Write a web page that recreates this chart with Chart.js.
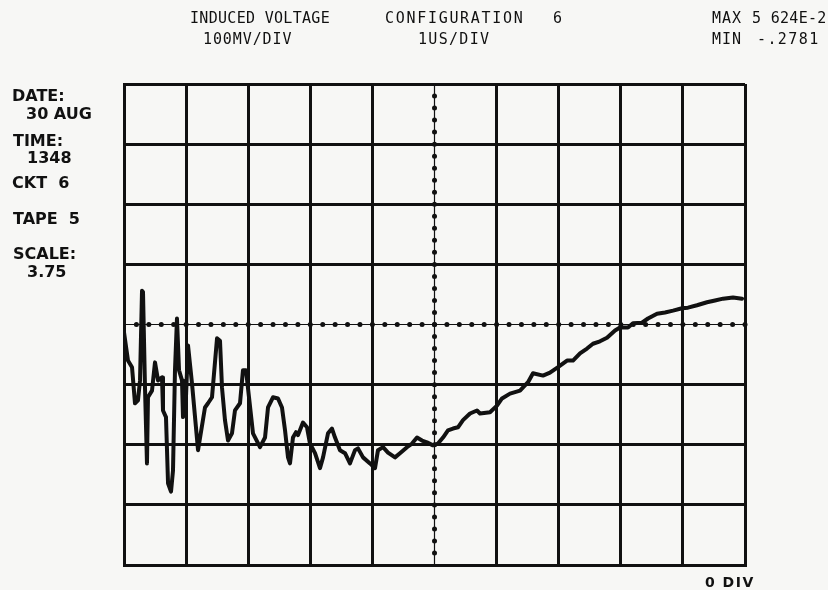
<!DOCTYPE html>
<html>
<head>
<meta charset="utf-8">
<script src="https://cdn.jsdelivr.net/npm/chart.js@4/dist/chart.umd.min.js"></script>
<style>
  body { margin: 0; background: #f7f7f5; }
  #wrap { position: relative; width: 828px; height: 590px; }
  canvas { position: absolute; left: 0; top: 0; }
  .hd, .lb { position: absolute; color: #111; white-space: pre; line-height: 1; }
  .hd { font-family: "DejaVu Sans Mono", monospace; font-size: 15px; letter-spacing: 0.3px; }
  .lb { font-family: "DejaVu Sans", sans-serif; font-weight: bold; font-size: 16px; }
</style>
</head>
<body>
<div id="wrap">
  <canvas id="scope" width="828" height="590"></canvas>
  <div class="hd" style="left:190px;top:11px">INDUCED VOLTAGE</div>
  <div class="hd" style="left:203px;top:32px;letter-spacing:0.9px">100MV/DIV</div>
  <div class="hd" style="left:385px;top:11px;letter-spacing:1.7px">CONFIGURATION</div>
  <div class="hd" style="left:553px;top:11px">6</div>
  <div class="hd" style="left:418px;top:32px;letter-spacing:1.3px">1US/DIV</div>
  <div class="hd" style="left:712px;top:11px;letter-spacing:1px">MAX</div>
  <div class="hd" style="left:752px;top:11px">5 624E-2</div>
  <div class="hd" style="left:712px;top:32px;letter-spacing:1px">MIN</div>
  <div class="hd" style="left:757px;top:32px;letter-spacing:1.4px">-.2781</div>

  <div class="lb" style="left:12px;top:88px">DATE:</div>
  <div class="lb" style="left:26px;top:106px">30 AUG</div>
  <div class="lb" style="left:13px;top:133px">TIME:</div>
  <div class="lb" style="left:27px;top:150px">1348</div>
  <div class="lb" style="left:12px;top:175px">CKT  6</div>
  <div class="lb" style="left:13px;top:211px">TAPE  5</div>
  <div class="lb" style="left:13px;top:246px">SCALE:</div>
  <div class="lb" style="left:27px;top:264px">3.75</div>

  <div class="lb" style="left:705px;top:575px;font-size:14px;letter-spacing:1.5px">0 DIV</div>
</div>
<script>
// trace samples: time in microseconds, induced voltage in millivolts
const timeUs = [
  0.000, 0.064, 0.129, 0.177, 0.225, 0.258, 0.290, 0.306, 0.338, 0.370,
  0.386, 0.451, 0.499, 0.548, 0.612, 0.628, 0.676, 0.709, 0.757, 0.789,
  0.821, 0.853, 0.886, 0.934, 0.950, 0.998, 1.031, 1.095, 1.192, 1.304,
  1.353, 1.417, 1.498, 1.546, 1.578, 1.626, 1.675, 1.739, 1.787, 1.868,
  1.916, 1.965, 2.013, 2.077, 2.190, 2.271, 2.319, 2.399, 2.480, 2.544,
  2.593, 2.641, 2.673, 2.721, 2.770, 2.802, 2.882, 2.947, 2.995, 3.076,
  3.156, 3.205, 3.285, 3.349, 3.398, 3.478, 3.559, 3.639, 3.720, 3.768,
  3.849, 3.961, 4.042, 4.090, 4.171, 4.251, 4.364, 4.444, 4.557, 4.638,
  4.718, 4.799, 4.879, 4.976, 5.056, 5.137, 5.217, 5.298, 5.378, 5.459,
  5.572, 5.684, 5.733, 5.894, 6.006, 6.087, 6.216, 6.377, 6.506, 6.586,
  6.747, 6.860, 6.989, 7.134, 7.230, 7.343, 7.456, 7.552, 7.665, 7.778,
  7.907, 7.987, 8.116, 8.196, 8.341, 8.438, 8.583, 8.712, 8.841, 8.986,
  9.082, 9.227, 9.388, 9.517, 9.646, 9.807, 9.952
];
const voltMv = [
  -13, -60, -71, -131, -126, -93, 56, 54, -105, -231,
  -121, -110, -63, -93, -88, -143, -154, -264, -278, -243,
  -76, 10, -76, -93, -154, -121, -35, -98, -209, -138,
  -131, -121, -23, -27, -105, -159, -193, -181, -143, -131,
  -76, -76, -121, -181, -204, -188, -138, -121, -123, -138,
  -176, -221, -231, -188, -179, -184, -163, -171, -198, -214,
  -239, -221, -181, -173, -188, -209, -214, -231, -209, -206,
  -221, -231, -239, -209, -204, -213, -221, -214, -204, -198,
  -188, -193, -196, -201, -198, -188, -176, -173, -171, -159,
  -148, -143, -148, -146, -135, -123, -115, -110, -96, -81,
  -85, -80, -71, -60, -60, -48, -40, -32, -28, -22,
  -10, -5, -5, 2, 3, 10, 18, 20, 23, 27,
  28, 32, 37, 40, 43, 45, 43
];

// 10 divisions of 1 us, 8 divisions of 100 mV
const timeRange = [0, 10];
const voltRange = [-400, 400];

const ink = '#111';

// center graticule lines: thin line with beads every 0.2 division
const centerLines = {
  id: 'centerLines',
  beforeDatasetsDraw(chart) {
    const { ctx, chartArea: a, scales: { x, y } } = chart;
    const cx = x.getPixelForValue(5);
    const cy = y.getPixelForValue(0);
    ctx.save();
    ctx.strokeStyle = ink;
    ctx.fillStyle = ink;
    ctx.lineWidth = 1.2;
    ctx.beginPath();
    ctx.moveTo(a.left, cy); ctx.lineTo(a.right, cy);
    ctx.moveTo(cx, a.top); ctx.lineTo(cx, a.bottom);
    ctx.stroke();
    for (let t = 0.2; t < 10; t += 0.2) {
      ctx.beginPath();
      ctx.arc(x.getPixelForValue(t), cy, 2.5, 0, Math.PI * 2);
      ctx.fill();
    }
    for (let v = -380; v < 400; v += 20) {
      ctx.beginPath();
      ctx.arc(cx, y.getPixelForValue(v), 2.5, 0, Math.PI * 2);
      ctx.fill();
    }
    ctx.restore();
  }
};

const scopeChart = new Chart(document.getElementById('scope'), {
  type: 'scatter',
  data: {
    datasets: [{
      label: 'Induced voltage',
      data: timeUs.map((t, i) => ({ x: t, y: voltMv[i] })),
      showLine: true,
      borderColor: ink,
      borderWidth: 4,
      pointRadius: 0,
      tension: 0,
      borderJoinStyle: 'round',
      borderCapStyle: 'round'
    }]
  },
  options: {
    responsive: false,
    animation: false,
    layout: { padding: { left: 124, right: 83, top: 84, bottom: 25 } },
    scales: {
      x: {
        type: 'linear',
        min: timeRange[0],
        max: timeRange[1],
        ticks: { display: false, stepSize: 1 },
        grid: {
          drawTicks: false,
          lineWidth: 3,
          color: c => c.tick.value === 5 ? 'rgba(0,0,0,0)' : ink
        },
        border: { display: true, color: ink, width: 3 }
      },
      y: {
        type: 'linear',
        min: voltRange[0],
        max: voltRange[1],
        ticks: { display: false, stepSize: 100 },
        grid: {
          drawTicks: false,
          lineWidth: 3,
          color: c => c.tick.value === 0 ? 'rgba(0,0,0,0)' : ink
        },
        border: { display: true, color: ink, width: 3 }
      }
    },
    plugins: {
      legend: { display: false },
      tooltip: { enabled: false }
    }
  },
  plugins: [centerLines]
});
</script>
</body>
</html>
